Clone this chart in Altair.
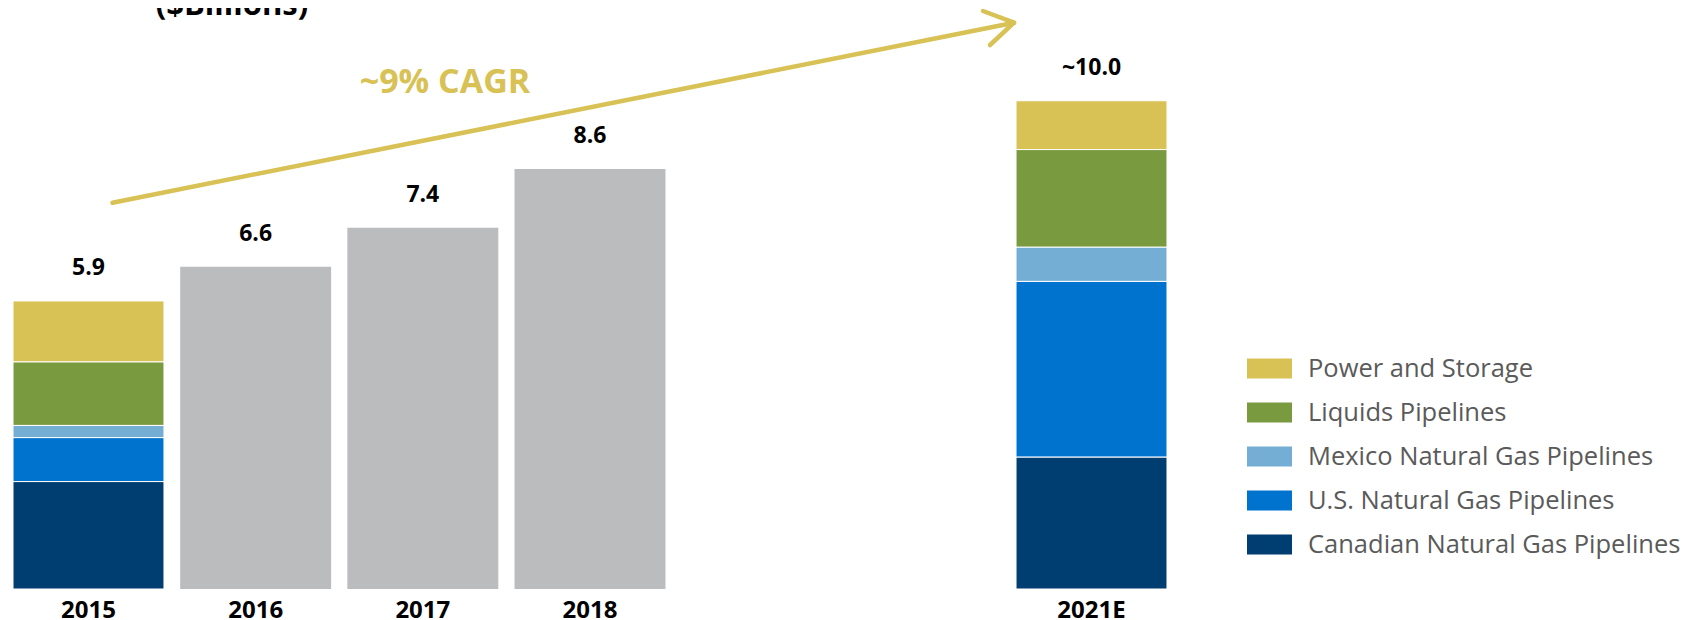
import altair as alt
import pandas as pd

# ---- data ----
years = ["2015", "2016", "2017", "2018", "2019", "2020", "2021E"]
segments = [
    "Power and Storage",
    "Liquids Pipelines",
    "Mexico Natural Gas Pipelines",
    "U.S. Natural Gas Pipelines",
    "Canadian Natural Gas Pipelines",
]
seg_colors = ["#D8C155", "#7A9A3F", "#74AED4", "#0073CF", "#003D70"]
stack_order = [5, 4, 3, 2, 1]  # Canadian at bottom
values_2015 = [1.25, 1.3, 0.25, 0.9, 2.2]
values_2021 = [1.0, 2.0, 0.7, 3.6, 2.7]

gray_years = ["2016", "2017", "2018"]
gray_totals = [6.6, 7.4, 8.6]

label_years = ["2015", "2016", "2017", "2018", "2021E"]
label_values = [5.9, 6.6, 7.4, 8.6, 10.0]
label_texts = ["5.9", "6.6", "7.4", "8.6", "~10.0"]

# ---- tables ----
rows = []
for yr, vals in (("2015", values_2015), ("2021E", values_2021)):
    for s, v, o in zip(segments, vals, stack_order):
        rows.append({"year": yr, "segment": s, "value": v, "ord": o})
stack_df = pd.DataFrame(rows)
gray_df = pd.DataFrame({"year": gray_years, "value": gray_totals})
label_df = pd.DataFrame({"year": label_years, "value": label_values, "text": label_texts})
one = pd.DataFrame({"k": [0]})

FONT = "Open Sans"
GOLD = "#D8C155"

x_enc = alt.X(
    "year:N",
    scale=alt.Scale(domain=years, paddingInner=0.097, paddingOuter=0.03),
    axis=alt.Axis(
        title=None, ticks=False, domain=False, grid=False,
        labelAngle=0, labelFont=FONT, labelFontSize=24, labelFontWeight="bold",
        labelColor="#000000", labelPadding=9,
        labelExpr="datum.value == '2019' || datum.value == '2020' ? '' : datum.value",
    ),
)
y_scale = alt.Scale(domain=[0, 11.9], nice=False)

stacked = alt.Chart(stack_df).mark_bar(stroke="white", strokeWidth=1).encode(
    x=x_enc,
    y=alt.Y("value:Q", stack="zero", scale=y_scale, axis=None),
    color=alt.Color(
        "segment:N",
        scale=alt.Scale(domain=segments, range=seg_colors),
        legend=alt.Legend(
            title=None, orient="none", legendX=1239, legendY=338,
            symbolType="M-1,-0.444L1,-0.444L1,0.444L-1,0.444Z",
            symbolSize=2025, symbolStrokeWidth=0, symbolOpacity=1,
            labelFont=FONT, labelFontSize=25.5, labelColor="#5A5A5A",
            labelLimit=600, labelOffset=16, rowPadding=8,
        ),
    ),
    order=alt.Order("ord:Q"),
)

gray = alt.Chart(gray_df).mark_bar(color="#BBBCBE").encode(
    x=alt.X("year:N"),
    y=alt.Y("value:Q"),
)

labels = alt.Chart(label_df).mark_text(
    font=FONT, fontSize=23, fontWeight="bold", color="#000000",
    baseline="middle", dy=-33,
).encode(
    x=alt.X("year:N"),
    y=alt.Y("value:Q"),
    text="text:N",
)

title_txt = alt.Chart(one).mark_text(
    text="($Billions)", font=FONT, fontSize=31, fontWeight="bold",
    color="#000000", align="center", baseline="alphabetic",
).encode(x=alt.value(224), y=alt.value(7))

cagr = alt.Chart(one).mark_text(
    text="~9% CAGR", font=FONT, fontSize=34, fontWeight="bold",
    color=GOLD, align="center", baseline="alphabetic",
).encode(x=alt.value(437), y=alt.value(85))

arrow_style = dict(color=GOLD, strokeWidth=4.5, strokeCap="round")
shaft = alt.Chart(one).mark_rule(**arrow_style).encode(
    x=alt.value(104.5), y=alt.value(194.7), x2=alt.value(1006), y2=alt.value(14.7)
)
head1 = alt.Chart(one).mark_rule(**arrow_style).encode(
    x=alt.value(975), y=alt.value(3), x2=alt.value(1006), y2=alt.value(14.7)
)
head2 = alt.Chart(one).mark_rule(**arrow_style).encode(
    x=alt.value(982), y=alt.value(37), x2=alt.value(1006), y2=alt.value(14.7)
)

chart = alt.layer(
    stacked, gray, labels, shaft, head1, head2, cagr, title_txt
).properties(
    width=1164, height=581,
    background="white",
    autosize=alt.AutoSizeParams(type="none"),
    padding={"left": 0, "top": 0, "right": 508, "bottom": 31},
).configure_view(strokeWidth=0, stroke="transparent")

chart.save("out.html", embed_options={"renderer": "svg", "actions": False})
